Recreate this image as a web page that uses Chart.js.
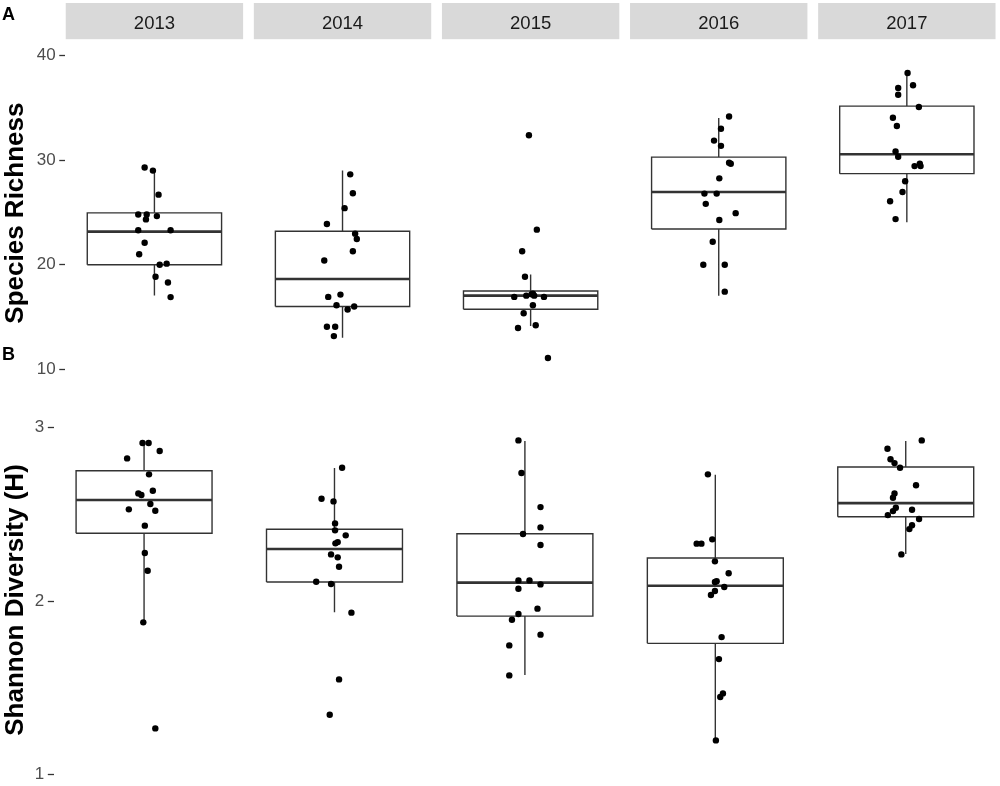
<!DOCTYPE html>
<html>
<head>
<meta charset="utf-8">
<script src="https://cdn.jsdelivr.net/npm/chart.js@4.4.1/dist/chart.umd.min.js"></script>
<style>
  html, body { margin: 0; padding: 0; background: #fff; overflow: hidden; }
  #wrap { position: relative; width: 1000px; height: 786px; overflow: hidden; background: #fff; }
  .panel { position: absolute; left: 0; width: 1000px; }
  .tag { position: absolute; left: 2px; font: bold 18px/18px "Liberation Sans", Arial, sans-serif; color: #000; }
</style>
</head>
<body>
<div id="wrap">
  <div class="panel" style="top:0;height:391px"><canvas id="richness"></canvas></div>
  <div class="panel" style="top:383px;height:434px"><canvas id="shannon"></canvas></div>
  <div class="tag" style="top:5px">A</div>
  <div class="tag" style="top:345px">B</div>
</div>
<script>
const years = ['2013', '2014', '2015', '2016', '2017'];

// panel A: species richness
const richnessTicks = [10, 20, 30, 40];
const richnessQ1 = [20.0, 16.0, 15.74, 23.41, 28.71];
const richnessMedian = [23.16, 18.63, 17.04, 26.96, 30.57];
const richnessQ3 = [24.96, 23.2, 17.49, 30.29, 35.17];
const richnessLow = [17.05, 13.0, 14.13, 17.04, 24.05];
const richnessHigh = [29.09, 29.0, 19.07, 34.03, 38.34];

const richness2013 = [29.3, 29.0, 26.7, 24.8, 24.8, 24.65, 24.33, 23.3, 23.3, 22.1, 21.0, 20.0, 20.1, 18.85, 18.3, 16.9];
const richness2014 = [28.64, 26.83, 25.41, 23.89, 22.97, 22.46, 21.29, 20.4, 16.92, 17.14, 16.12, 15.71, 16.0, 14.07, 14.07, 13.17];
const richness2015 = [32.38, 23.35, 21.29, 18.85, 16.92, 17.04, 17.23, 17.17, 17.04, 16.92, 16.12, 15.36, 14.2, 13.94, 11.08];
const richness2016 = [34.18, 33.01, 31.87, 31.37, 29.75, 29.66, 28.26, 26.8, 26.8, 25.82, 24.93, 24.27, 22.2, 19.99, 19.99, 17.42];
const richness2017 = [38.34, 37.17, 36.91, 36.25, 35.08, 34.06, 33.27, 30.83, 30.32, 29.43, 29.66, 29.43, 27.98, 26.96, 26.07, 24.36];

const richnessJitter2013 = [-0.052, -0.008, 0.022, -0.086, -0.041, 0.013, -0.045, -0.086, 0.086, -0.052, -0.081, 0.028, 0.065, 0.006, 0.072, 0.086];
const richnessJitter2014 = [0.041, 0.055, 0.011, -0.083, 0.067, 0.076, 0.055, -0.097, -0.076, -0.011, -0.032, 0.027, 0.062, -0.083, -0.039, -0.046];
const richnessJitter2015 = [-0.009, 0.033, -0.045, -0.030, -0.087, -0.023, 0.012, 0.005, 0.019, 0.071, 0.012, -0.037, 0.027, -0.067, 0.092];
const richnessJitter2016 = [0.055, 0.012, -0.025, 0.012, 0.055, 0.064, 0.003, -0.076, -0.011, -0.069, 0.090, 0.003, -0.032, -0.082, 0.032, 0.032];
const richnessJitter2017 = [0.004, 0.033, -0.046, -0.046, 0.064, -0.074, -0.053, -0.060, -0.046, 0.041, 0.069, 0.073, -0.009, -0.023, -0.089, -0.060];

// panel B: shannon diversity
const shannonTicks = [1, 2, 3];
const shannonQ1 = [2.391, 2.110, 1.913, 1.756, 2.486];
const shannonMedian = [2.583, 2.300, 2.106, 2.088, 2.565];
const shannonQ3 = [2.752, 2.414, 2.388, 2.248, 2.773];
const shannonLow = [1.877, 1.935, 1.573, 1.196, 2.271];
const shannonHigh = [2.91, 2.767, 2.923, 2.729, 2.923];

const shannon2013 = [2.912, 2.912, 2.866, 2.823, 2.731, 2.621, 2.612, 2.636, 2.560, 2.529, 2.521, 2.435, 2.277, 2.175, 1.877, 1.265];
const shannon2014 = [2.769, 2.590, 2.575, 2.448, 2.408, 2.379, 2.333, 2.340, 2.269, 2.252, 2.198, 2.111, 2.098, 1.933, 1.548, 1.344];
const shannon2015 = [2.927, 2.739, 2.542, 2.425, 2.387, 2.323, 2.119, 2.119, 2.096, 2.071, 1.956, 1.925, 1.892, 1.806, 1.744, 1.571];
const shannon2016 = [2.731, 2.356, 2.331, 2.331, 2.229, 2.160, 2.110, 2.114, 2.081, 2.058, 2.035, 1.792, 1.665, 1.467, 1.446, 1.196];
const shannon2017 = [2.927, 2.879, 2.818, 2.796, 2.769, 2.668, 2.621, 2.596, 2.538, 2.519, 2.527, 2.496, 2.473, 2.437, 2.415, 2.269];

const shannonJitter2013 = [-0.008, 0.024, 0.082, -0.089, 0.026, -0.030, -0.014, 0.046, 0.033, -0.080, 0.059, 0.004, 0.004, 0.019, -0.004, 0.059];
const shannonJitter2014 = [0.040, -0.068, -0.005, 0.003, 0.003, 0.059, 0.005, 0.017, -0.018, 0.017, 0.024, -0.096, -0.018, 0.089, 0.024, -0.025];
const shannonJitter2015 = [-0.034, -0.018, 0.082, 0.082, -0.010, 0.082, -0.034, 0.024, 0.082, -0.034, 0.066, -0.034, -0.068, 0.082, -0.082, -0.082];
const shannonJitter2016 = [-0.039, -0.016, -0.098, -0.073, -0.002, 0.070, -0.002, 0.007, 0.047, -0.002, -0.023, 0.033, 0.019, 0.040, 0.026, 0.003];
const shannonJitter2017 = [0.084, -0.096, -0.080, -0.059, -0.030, 0.054, -0.059, -0.067, -0.052, -0.067, 0.033, -0.094, 0.070, 0.033, 0.019, -0.023];

const BOX_HALF = 0.357;     // half box width, in category units
const PANEL_HALF = 0.4715;  // half facet width
const X_MIN = -0.474, X_MAX = 4.474;
const LINE = '#333333';
const FONT = '"Liberation Sans", Arial, sans-serif';

Chart.defaults.font.family = FONT;
Chart.defaults.animation = false;

// box outlines, medians and whiskers as gapped polylines
function boxData(q1, q3) {
  const pts = [];
  q1.forEach((lo, i) => {
    pts.push({x: i - BOX_HALF, y: lo}, {x: i + BOX_HALF, y: lo}, {x: i + BOX_HALF, y: q3[i]},
             {x: i - BOX_HALF, y: q3[i]}, {x: i - BOX_HALF, y: lo}, {x: i, y: null});
  });
  return pts;
}
function medianData(med) {
  const pts = [];
  med.forEach((m, i) => pts.push({x: i - BOX_HALF, y: m}, {x: i + BOX_HALF, y: m}, {x: i, y: null}));
  return pts;
}
function whiskerData(q1, q3, lo, hi) {
  const pts = [];
  q1.forEach((v, i) => {
    pts.push({x: i, y: q3[i]}, {x: i, y: hi[i]}, {x: i, y: null},
             {x: i, y: v}, {x: i, y: lo[i]}, {x: i, y: null});
  });
  return pts;
}
function pointData(groups, jitters) {
  const pts = [];
  groups.forEach((vals, i) => vals.forEach((v, k) => pts.push({x: i + jitters[i][k], y: v})));
  return pts;
}

function lineSet(data, width) {
  return {
    data, showLine: true, borderColor: LINE, borderWidth: width, pointRadius: 0,
    spanGaps: false, order: 1, borderCapStyle: 'butt', borderJoinStyle: 'miter'
  };
}

function datasets(q1, med, q3, lo, hi, groups, jitters) {
  return [
    {data: pointData(groups, jitters), pointRadius: 3.2, pointBackgroundColor: '#000',
     pointBorderWidth: 0, showLine: false, order: 0},
    lineSet(boxData(q1, q3), 1.4),
    lineSet(whiskerData(q1, q3, lo, hi), 1.4),
    lineSet(medianData(med), 2.6)
  ];
}

// tiny lineHeight so the tick labels barely pad the plot area (inset = padding + 0.425)
function yAxis(min, max, ticks, title, titleGap) {
  return {
    type: 'linear', position: 'left', min, max,
    afterBuildTicks: (s) => { s.ticks = ticks.map(v => ({value: v})); },
    ticks: {font: {size: 17, lineHeight: 0.05}, color: '#4d4d4d', padding: 3.575},
    grid: {drawOnChartArea: false, drawTicks: true, tickLength: 6, tickColor: LINE, tickWidth: 1.3},
    border: {display: false},
    title: {display: true, text: title, color: '#000', font: {size: 26, weight: 'bold'},
            padding: {top: 0, bottom: titleGap}}
  };
}

const stripPlugin = {
  id: 'strips',
  beforeDraw(chart) {
    const x = chart.scales.x;
    const ctx = chart.ctx;
    ctx.save();
    ctx.fillStyle = '#d9d9d9';
    years.forEach((yr, i) => {
      const l = x.getPixelForValue(i - PANEL_HALF);
      const r = x.getPixelForValue(i + PANEL_HALF);
      ctx.fillRect(l, 3, r - l, chart.chartArea.top - 3);
    });
    ctx.restore();
  }
};

const common = {
  responsive: true,
  maintainAspectRatio: false,
  plugins: {legend: {display: false}, tooltip: {enabled: false}},
  events: []
};

new Chart(document.getElementById('richness'), {
  type: 'scatter',
  data: {
    datasets: datasets(richnessQ1, richnessMedian, richnessQ3, richnessLow, richnessHigh,
      [richness2013, richness2014, richness2015, richness2016, richness2017],
      [richnessJitter2013, richnessJitter2014, richnessJitter2015, richnessJitter2016, richnessJitter2017])
  },
  options: {
    ...common,
    layout: {padding: {top: 8.2, right: 2, bottom: 0, left: 0}},
    scales: {
      x: {
        type: 'linear', position: 'top', min: X_MIN, max: X_MAX,
        afterBuildTicks: (s) => { s.ticks = years.map((_, i) => ({value: i})); },
        ticks: {callback: (v) => years[Math.round(v)], font: {size: 18.5}, color: '#1a1a1a',
                padding: 4.4, maxRotation: 0, autoSkip: false},
        grid: {display: false, drawTicks: false},
        border: {display: false}
      },
      y: yAxis(8.30, 41.57, richnessTicks, 'Species Richness', 2)
    }
  },
  plugins: [stripPlugin]
});

new Chart(document.getElementById('shannon'), {
  type: 'scatter',
  data: {
    datasets: datasets(shannonQ1, shannonMedian, shannonQ3, shannonLow, shannonHigh,
      [shannon2013, shannon2014, shannon2015, shannon2016, shannon2017],
      [shannonJitter2013, shannonJitter2014, shannonJitter2015, shannonJitter2016, shannonJitter2017])
  },
  options: {
    ...common,
    layout: {padding: {top: 0, right: 2, bottom: 0, left: 0}},
    scales: {
      x: {type: 'linear', min: X_MIN, max: X_MAX, display: false},
      y: yAxis(0.777, 3.235, shannonTicks, 'Shannon Diversity (H)', 0)
    }
  }
});
</script>
</body>
</html>
